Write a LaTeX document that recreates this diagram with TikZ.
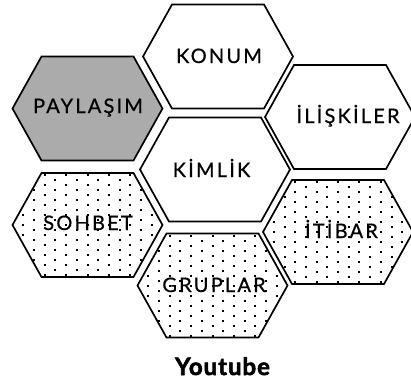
\documentclass[tikz,border=0pt]{standalone}
\usepackage{fontspec}
\setmainfont{Lato}
\newfontfamily\lblfont[LetterSpace=11, FakeBold=0.6]{Lato}
\newfontfamily\ytfont[LetterSpace=4, BoldFeatures={FakeBold=2.2}]{Lato}
\begin{document}
\begin{tikzpicture}[x=1pt,y=-1pt,
  lbl/.style={font=\lblfont\fontsize{20}{24}\selectfont, inner sep=0pt, anchor=base},
  hexline/.style={draw=black, line width=1.7pt, line join=miter}]
\useasboundingbox (0,0) rectangle (411,384);
\def\hexR{75}\def\hexW{46}\def\hexH{52}
\newcommand{\hexshape}[1]{([shift={(-\hexR,0)}]#1) -- ([shift={(-\hexW,-\hexH)}]#1) -- ([shift={(\hexW,-\hexH)}]#1) -- ([shift={(\hexR,0)}]#1) -- ([shift={(\hexW,\hexH)}]#1) -- ([shift={(-\hexW,\hexH)}]#1) -- cycle}
\newcommand{\hexdots}[1]{%
  \begin{scope}
    \clip \hexshape{#1};
    \foreach \i in {-8,...,8} {
      \foreach \j in {-7,...,7} {
        \pgfmathsetmacro{\off}{mod(abs(\i),2)*5}
        \fill[black] ([shift={(\i*10.7-1,\j*10+\off-1)}]#1) rectangle ++(2,2);
      }
    }
  \end{scope}}
% centers
\coordinate (cK) at (218,56.5);
\coordinate (cP) at (87.5,108.5);
\coordinate (cI) at (340,117);
\coordinate (cM) at (215,169.5);
\coordinate (cS) at (87.5,225);
\coordinate (cT) at (338,232);
\coordinate (cG) at (212.5,285.5);
% shapes
\fill[white] \hexshape{cK}; \draw[hexline] \hexshape{cK};
\fill[black!33] \hexshape{cP}; \draw[hexline] \hexshape{cP};
\fill[white] \hexshape{cI}; \draw[hexline] \hexshape{cI};
\fill[white] \hexshape{cM}; \draw[hexline] \hexshape{cM};
\hexdots{cS}; \draw[hexline] \hexshape{cS};
\hexdots{cT}; \draw[hexline] \hexshape{cT};
\hexdots{cG}; \draw[hexline] \hexshape{cG};
% labels
\node[lbl] (tK) at (219,63) {KONUM};
\node[lbl] (tP) at (88,113) {PAYLAŞIM};
\node[lbl] (tI) at (348,123) {İLİŞKİLER};
\node[lbl] (tM) at (211.5,177) {KİMLİK};
\node[lbl] (tS) at (88,230) {SOHBET};
\node[lbl] (tT) at (341.5,238) {İTİBAR};
\node[lbl] (tG) at (214,292) {GRUPLAR};
\node[font=\ytfont\bfseries\fontsize{24}{28}\selectfont, inner sep=0pt, anchor=base] (yt) at (222.5,375) {Youtube};
\end{tikzpicture}
\end{document}
